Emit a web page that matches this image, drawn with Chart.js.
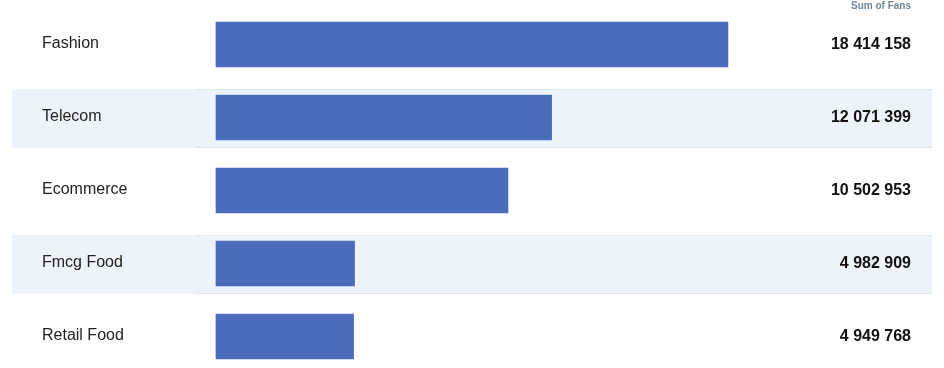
<!DOCTYPE html>
<html>
<head>
<meta charset="utf-8">
<script src="https://cdn.jsdelivr.net/npm/chart.js@4/dist/chart.umd.min.js"></script>
<style>
html,body{margin:0;padding:0;background:#fff;overflow:hidden;}
#wrap{width:944px;height:368px;position:relative;}
</style>
</head>
<body>
<div id="wrap"><canvas id="c" width="944" height="368"></canvas></div>
<script>
const categories = ["Fashion", "Telecom", "Ecommerce", "Fmcg Food", "Retail Food"];
const fans = [18414158, 12071399, 10502953, 4982909, 4949768];
const seriesLabel = "Sum of Fans";

function fmt(v){ return String(v).replace(/\B(?=(\d{3})+(?!\d))/g, " "); }

const FONT = '"Liberation Sans", Arial, Helvetica, sans-serif';

const tablePlugin = {
  id: 'tablePlugin',
  beforeDatasetsDraw(chart){
    const ctx = chart.ctx, y = chart.scales.y;
    ctx.save();
    categories.forEach((c,i)=>{
      if(i % 2 === 1){
        const cy = y.getPixelForValue(i);
        const top = Math.round(cy - 28.5), bot = Math.round(cy + 30.5);
        ctx.fillStyle = '#ECF3FA';
        ctx.fillRect(12, top, 920, bot - top);
        ctx.fillStyle = '#E1E6EA';
        ctx.fillRect(196, top, 736, 1);
        ctx.fillRect(196, bot - 1, 736, 1);
      }
    });
    ctx.restore();
  },
  afterDatasetsDraw(chart){
    const ctx = chart.ctx, y = chart.scales.y;
    ctx.save();
    ctx.textBaseline = 'middle';
    categories.forEach((c,i)=>{
      const cy = y.getPixelForValue(i);
      ctx.fillStyle = '#222';
      ctx.textAlign = 'left';
      ctx.font = '16px ' + FONT;
      ctx.fillText(c, 42, cy - 1);
      ctx.textAlign = 'right';
      ctx.font = 'bold 16px ' + FONT;
      ctx.fillStyle = '#111';
      ctx.fillText(fmt(fans[i]), 911, cy);
    });
    ctx.font = 'bold 10px ' + FONT;
    ctx.fillStyle = '#6F8799';
    ctx.textAlign = 'right';
    ctx.fillText(seriesLabel, 911, 6);
    ctx.restore();
  }
};

new Chart(document.getElementById('c'), {
  type: 'bar',
  data: {
    labels: categories,
    datasets: [{
      label: seriesLabel,
      data: fans,
      backgroundColor: '#4A6CBA',
      borderWidth: 0,
      barThickness: 45,
      clip: false
    }]
  },
  options: {
    indexAxis: 'y',
    responsive: false,
    animation: false,
    layout: { padding: { left: 216, right: 172, top: 44.5, bottom: 31.5 } },
    plugins: { legend: { display: false }, tooltip: { enabled: false } },
    scales: {
      x: { display: false, min: 0, max: 20000000 },
      y: { display: false, offset: false }
    }
  },
  plugins: [tablePlugin]
});
</script>
</body>
</html>
